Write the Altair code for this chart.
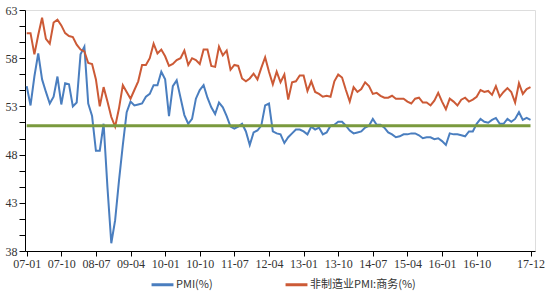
import altair as alt
import pandas as pd

# ---- categories ----
years = list(range(2007, 2018))
month_labels = [f"{y % 100:02d}-{m:02d}" for y in years for m in range(1, 13)]

# ---- series values (monthly, 2007-01 .. 2017-12) ----
pmi = [
    55.1, 53.1, 56.1, 58.5, 55.8, 54.5, 53.3, 54.0, 56.1, 53.2, 55.4, 55.3,
    53.0, 53.4, 58.4, 59.2, 53.3, 52.0, 48.4, 48.4, 51.2, 44.6, 38.8, 41.2,
    45.3, 49.0, 52.4, 53.5, 53.1, 53.2, 53.3, 54.0, 54.3, 55.2, 55.2, 56.6,
    55.8, 52.0, 55.1, 55.7, 53.9, 52.1, 51.2, 51.7, 53.8, 54.7, 55.2, 53.9,
    52.9, 52.2, 53.4, 52.9, 52.0, 50.9, 50.7, 50.9, 51.2, 50.4, 49.0, 50.3,
    50.5, 51.0, 53.1, 53.3, 50.4, 50.2, 50.1, 49.2, 49.8, 50.2, 50.6, 50.6,
    50.4, 50.1, 50.9, 50.6, 50.8, 50.1, 50.3, 51.0, 51.1, 51.4, 51.4, 51.0,
    50.5, 50.2, 50.3, 50.4, 50.8, 51.0, 51.7, 51.1, 51.1, 50.8, 50.3, 50.1,
    49.8, 49.9, 50.1, 50.1, 50.2, 50.2, 50.0, 49.7, 49.8, 49.8, 49.6, 49.7,
    49.4, 49.0, 50.2, 50.1, 50.1, 50.0, 49.9, 50.4, 50.4, 51.2, 51.7, 51.4,
    51.3, 51.6, 51.8, 51.2, 51.2, 51.7, 51.4, 51.7, 52.4, 51.6, 51.8, 51.6,
]
nonmfg = [
    60.6, 60.6, 58.4, 60.4, 62.2, 60.0, 59.5, 61.7, 62.0, 61.4, 60.6, 60.3,
    60.2, 59.4, 58.9, 58.7, 57.5, 57.4, 55.8, 53.0, 55.0, 53.5, 51.9, 50.9,
    52.8, 55.2, 54.5, 53.8, 54.7, 55.6, 57.3, 57.3, 58.0, 59.5, 58.5, 58.9,
    58.2, 57.2, 57.4, 57.8, 58.0, 58.8, 57.3, 58.0, 57.8, 57.4, 58.9, 58.9,
    57.2, 57.1, 59.2, 58.3, 58.8, 56.8, 57.3, 57.2, 55.9, 55.6, 55.9, 56.4,
    55.8, 57.0, 58.1, 56.6, 55.3, 56.6, 55.5, 56.3, 53.7, 55.5, 55.6, 56.2,
    56.2, 54.6, 55.6, 54.5, 54.3, 54.0, 54.1, 54.0, 55.6, 56.3, 56.0, 54.7,
    53.5, 55.0, 54.5, 54.8, 55.5, 55.1, 54.3, 54.4, 54.1, 53.9, 53.9, 54.1,
    53.8, 53.8, 53.8, 53.5, 53.3, 53.8, 53.9, 53.4, 53.4, 53.1, 53.6, 54.4,
    53.5, 52.7, 53.8, 53.5, 53.1, 53.7, 53.9, 53.5, 53.7, 54.0, 54.7, 54.5,
    54.6, 54.2, 55.1, 54.0, 54.5, 54.9, 54.5, 53.4, 55.4, 54.3, 54.8, 55.0,
]
ref_level = 51

series_names = ["PMI(%)", "非制造业PMI:商务(%)"]
series_colors = ["#4a7ebf", "#cc5a36"]
ref_color = "#7a9a3e"

# ---- tick labels ----
x_tick_months = [0, 9, 18, 27, 36, 45, 54, 63, 72, 81, 90, 99, 108, 117, 131]
x_tick_labels = [month_labels[i] for i in x_tick_months]
y_ticks = [round(38 + 5 * k / 3, 4) for k in range(16)]

rows = []
for i, lab in enumerate(month_labels):
    rows.append({"idx": i, "month": lab, "value": pmi[i], "series": series_names[0]})
    rows.append({"idx": i, "month": lab, "value": nonmfg[i], "series": series_names[1]})
df = pd.DataFrame(rows)
ref_df = pd.DataFrame({"start": [0], "end": [len(month_labels) - 1], "level": [ref_level]})

xt_js = "[" + ",".join(str(v) for v in x_tick_months) + "]"
xl_js = "[" + ",".join(f"'{s}'" for s in x_tick_labels) + "]"

x_scale = alt.Scale(domain=[-0.44, 132.17], nice=False, zero=False)
y_scale = alt.Scale(domain=[38, 63], nice=False, zero=False)

axis_font = "Liberation Serif"

x_axis = alt.Axis(values=x_tick_months, labelExpr=f"{xl_js}[indexof({xt_js}, datum.value)]",
                  grid=False, tickSize=5, labelPadding=2, labelFlush=False,
                  labelOverlap=False, domainColor="#000", tickColor="#000",
                  labelFont=axis_font, labelFontSize=12, labelColor="#333", title=None)
y_axis = alt.Axis(values=y_ticks,
                  labelExpr="abs(datum.value % 5 - 3) < 0.01 ? format(datum.value, '.0f') : ''",
                  grid=False, tickSize=6, labelPadding=2, labelOverlap=False,
                  labelFlush=False, domainColor="#000", tickColor="#000",
                  labelFont=axis_font, labelFontSize=12, labelColor="#333", title=None)

lines = alt.Chart(df).mark_line(strokeWidth=2).encode(
    x=alt.X("idx:Q", scale=x_scale, axis=x_axis),
    y=alt.Y("value:Q", scale=y_scale, axis=y_axis),
    color=alt.Color("series:N", sort=series_names,
                    scale=alt.Scale(domain=series_names, range=series_colors),
                    legend=alt.Legend(title=None, orient="none", direction="horizontal",
                                      legendX=125, legendY=262, symbolType="stroke",
                                      symbolStrokeWidth=3, symbolSize=480,
                                      labelFont="Noto Sans CJK SC", labelFontSize=11,
                                      labelColor="#333", columnPadding=66, labelOffset=1)),
    detail="series:N",
)

ref = alt.Chart(ref_df).mark_rule(strokeWidth=3, color=ref_color).encode(
    x=alt.X("start:Q", scale=x_scale, axis=x_axis),
    x2="end:Q",
    y=alt.Y("level:Q", scale=y_scale, axis=y_axis),
)

chart = alt.layer(lines, ref).properties(
    width=510, height=241,
    autosize=alt.AutoSizeParams(type="none"),
    padding={"left": 25, "top": 10, "right": 15, "bottom": 49},
).configure_view(stroke=None).configure_axis(labelOverlap=False).configure(background="white")

chart.save("out.html", embed_options={"renderer": "svg", "actions": False})
